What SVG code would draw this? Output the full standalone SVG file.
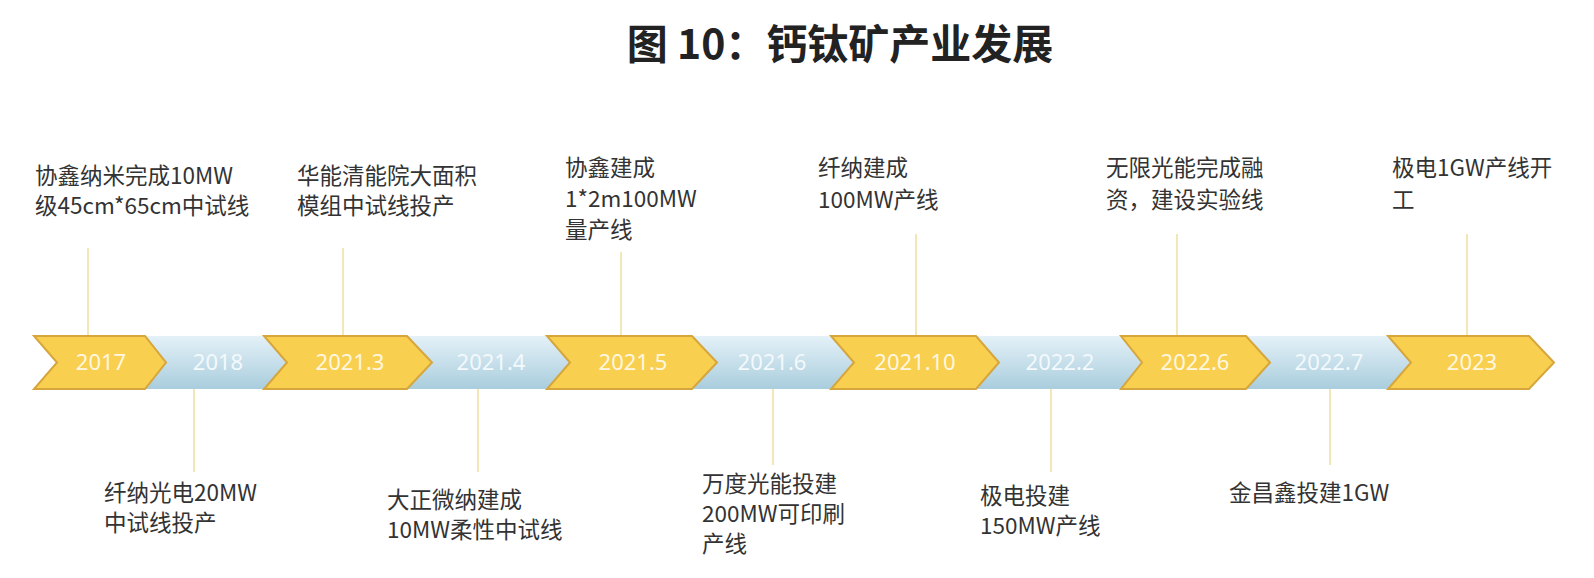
<svg xmlns="http://www.w3.org/2000/svg" width="1594" height="578" viewBox="0 0 1594 578">
<style>
.title{font-family:"Noto Sans CJK SC","Noto Sans",sans-serif;font-size:41px;font-weight:700;fill:#222}
.lbl{font-family:"Noto Sans CJK SC","Noto Sans",sans-serif;font-size:22.5px;fill:#333}
.yr{font-family:"Noto Sans","Noto Sans CJK SC",sans-serif;font-size:22px;text-anchor:middle}
.yt{fill:#fff7e0}
.bt{fill:#f3f9fc}
.yel{fill:#f9cf4f;stroke:#d6a63c;stroke-width:2;stroke-linejoin:miter}
.blu{fill:url(#bg)}
.con{stroke:#f0e1a6;stroke-width:1.6;fill:none}
</style>
<defs>
<linearGradient id="bg" x1="0" y1="0" x2="0" y2="1">
<stop offset="0" stop-color="#e4f1f8"/>
<stop offset="1" stop-color="#a9cddd"/>
</linearGradient>
</defs>
<rect width="1594" height="578" fill="#fff"/>
<text class="title" x="840" y="59" text-anchor="middle">图 10：钙钛矿产业发展</text>
<g id="connectors">
<line class="con" x1="88" y1="248" x2="88" y2="336"/>
<line class="con" x1="343" y1="248" x2="343" y2="336"/>
<line class="con" x1="621" y1="252" x2="621" y2="336"/>
<line class="con" x1="916" y1="234" x2="916" y2="336"/>
<line class="con" x1="1177" y1="234" x2="1177" y2="336"/>
<line class="con" x1="1467" y1="234" x2="1467" y2="336"/>
<line class="con" x1="194" y1="389" x2="194" y2="472"/>
<line class="con" x1="478" y1="389" x2="478" y2="472"/>
<line class="con" x1="773" y1="389" x2="773" y2="465"/>
<line class="con" x1="1051" y1="389" x2="1051" y2="472"/>
<line class="con" x1="1330" y1="389" x2="1330" y2="465"/>
</g>
<g id="n2018"><polygon class="blu" points="145,336 264,336 287,362.5 264,389 145,389 166,362.5"/><text class="yr bt" x="218" y="370">2018</text></g>
<g id="n2021-4"><polygon class="blu" points="407,336 547,336 570,362.5 547,389 407,389 432,362.5"/><text class="yr bt" x="491" y="370">2021.4</text></g>
<g id="n2021-6"><polygon class="blu" points="692,336 831,336 854,362.5 831,389 692,389 717,362.5"/><text class="yr bt" x="772" y="370">2021.6</text></g>
<g id="n2022-2"><polygon class="blu" points="976,336 1121,336 1142,362.5 1121,389 976,389 999,362.5"/><text class="yr bt" x="1060" y="370">2022.2</text></g>
<g id="n2022-7"><polygon class="blu" points="1246,336 1388,336 1411,362.5 1388,389 1246,389 1270,362.5"/><text class="yr bt" x="1329" y="370">2022.7</text></g>
<g id="n2017"><polygon class="yel" points="34,336 145,336 166,362.5 145,389 34,389 57,362.5"/><text class="yr yt" x="101" y="370">2017</text></g>
<g id="n2021-3"><polygon class="yel" points="264,336 407,336 432,362.5 407,389 264,389 287,362.5"/><text class="yr yt" x="350" y="370">2021.3</text></g>
<g id="n2021-5"><polygon class="yel" points="547,336 692,336 717,362.5 692,389 547,389 570,362.5"/><text class="yr yt" x="633" y="370">2021.5</text></g>
<g id="n2021-10"><polygon class="yel" points="831,336 976,336 999,362.5 976,389 831,389 854,362.5"/><text class="yr yt" x="915" y="370">2021.10</text></g>
<g id="n2022-6"><polygon class="yel" points="1121,336 1246,336 1270,362.5 1246,389 1121,389 1142,362.5"/><text class="yr yt" x="1195" y="370">2022.6</text></g>
<g id="n2023"><polygon class="yel" points="1388,336 1529,336 1554,362.5 1529,389 1388,389 1411,362.5"/><text class="yr yt" x="1472" y="370">2023</text></g>
<g id="l1"><text class="lbl" x="35" y="184">协鑫纳米完成10MW</text><text class="lbl" x="35" y="214">级45cm*65cm中试线</text></g>
<g id="l2"><text class="lbl" x="297" y="184">华能清能院大面积</text><text class="lbl" x="297" y="214">模组中试线投产</text></g>
<g id="l3"><text class="lbl" x="565" y="176">协鑫建成</text><text class="lbl" x="565" y="207">1*2m100MW</text><text class="lbl" x="565" y="238">量产线</text></g>
<g id="l4"><text class="lbl" x="818" y="176">纤纳建成</text><text class="lbl" x="818" y="208">100MW产线</text></g>
<g id="l5"><text class="lbl" x="1106" y="176">无限光能完成融</text><text class="lbl" x="1106" y="208">资，建设实验线</text></g>
<g id="l6"><text class="lbl" x="1392" y="176">极电1GW产线开</text><text class="lbl" x="1392" y="208">工</text></g>
<g id="l7"><text class="lbl" x="104" y="501">纤纳光电20MW</text><text class="lbl" x="104" y="531">中试线投产</text></g>
<g id="l8"><text class="lbl" x="387" y="508">大正微纳建成</text><text class="lbl" x="387" y="538">10MW柔性中试线</text></g>
<g id="l9"><text class="lbl" x="702" y="492">万度光能投建</text><text class="lbl" x="702" y="522">200MW可印刷</text><text class="lbl" x="702" y="552">产线</text></g>
<g id="l10"><text class="lbl" x="980" y="504">极电投建</text><text class="lbl" x="980" y="534">150MW产线</text></g>
<g id="l11"><text class="lbl" x="1229" y="501">金昌鑫投建1GW</text></g>
</svg>
